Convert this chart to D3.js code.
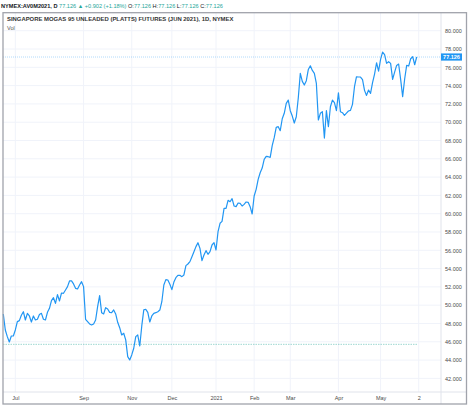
<!DOCTYPE html>
<html><head><meta charset="utf-8">
<script src="https://cdn.jsdelivr.net/npm/d3@7"></script>
<style>html,body{margin:0;padding:0;background:#fff;}svg{display:block;font-family:"Liberation Sans",Arial,sans-serif;}</style>
</head><body>
<svg id="chart" width="469" height="408"></svg>
<script>
// ---- data ----
const values = [
49.04,47.29,46.56,45.98,46.63,46.63,47.29,48.20,48.31,48.89,
49.29,48.38,49.11,48.82,48.16,48.82,48.38,48.46,48.97,49.11,
48.46,48.38,49.22,49.66,50.50,50.82,50.20,51.15,50.46,51.33,
51.30,51.66,52.03,52.65,52.65,52.32,51.84,51.77,52.21,52.57,
52.03,48.46,48.20,47.95,47.84,47.95,48.38,49.84,51.04,49.18,
49.04,49.73,49.58,49.22,49.18,49.48,49.04,48.13,47.54,46.74,
46.93,46.20,44.38,44.01,44.56,45.29,46.56,46.74,45.54,47.73,
49.48,49.55,49.22,48.16,48.82,49.11,49.18,49.29,49.47,50.38,
52.21,52.79,52.75,52.28,51.70,52.53,53.01,53.26,53.26,53.12,
53.30,54.32,54.50,54.76,55.30,55.85,56.40,56.83,56.21,54.87,
55.48,55.96,55.56,55.85,56.58,56.83,56.03,58.03,58.95,59.16,
60.58,60.58,61.46,61.31,61.64,60.84,60.77,61.17,61.13,60.84,
61.02,61.28,61.24,60.77,59.97,61.93,62.66,63.75,64.48,64.99,
65.94,66.27,66.23,66.16,67.43,68.31,69.44,69.51,69.07,70.38,
70.97,72.06,72.42,71.26,70.67,69.91,70.60,72.68,75.34,74.46,
74.06,74.54,75.77,76.17,75.66,75.34,74.24,70.24,70.97,71.15,
68.27,71.26,69.51,71.69,72.42,72.13,71.26,73.22,71.15,71.04,
70.75,71.00,71.22,71.29,71.95,73.88,74.97,74.94,74.94,74.65,
73.48,72.93,73.52,73.15,74.32,75.26,76.50,75.59,76.87,77.67,
77.38,76.43,76.61,76.43,74.68,75.48,76.21,76.36,74.68,72.79,
74.72,76.21,76.14,76.94,77.16,76.28,77.126
];
const xTickLabels = ["Jul","Sep","Nov","Dec","2021","Feb","Mar","Apr","May","2"];
const xTickIndex  = [6, 40, 64, 84, 106, 125, 143, 167, 188, 207];
const yTicks = [42,44,46,48,50,52,54,56,58,60,62,64,66,68,70,72,74,76,78,80];
const lastPrice = 77.126;
const baseLine = 45.72;
const symbol = "NYMEX:AV0M2021, D";
const change = "+0.902 (+1.18%)";
const title = "SINGAPORE MOGAS 95 UNLEADED (PLATTS) FUTURES (JUN 2021), 1D, NYMEX";

// ---- layout ----
const svg = d3.select("#chart");
const L = 3, R = 441, T = 12.7, B = 392, FR = 466.5, FB = 404;
const x = d3.scaleLinear().domain([0, values.length - 1]).range([3.3, 416.7]);
const y = d3.scaleLinear().domain([40.51, 81.97]).range([B, T]);
const teal = "#26a69a", blue = "#2196f3", txt = "#4a4a4a";

// header
const hdr = svg.append("text").attr("x", 1).attr("y", 8).attr("font-size", 5.6).attr("fill", "#131722");
hdr.append("tspan").attr("font-weight", "bold").text(symbol + " ");
hdr.append("tspan").attr("fill", teal).text("77.126 \u25B2 " + change + " ");
["O","H","L","C"].forEach(k => {
  hdr.append("tspan").text(k + ":");
  hdr.append("tspan").attr("fill", teal).text("77.126 ");
});

// grid
const g = svg.append("g");
g.selectAll(".hg").data(yTicks).join("line")
  .attr("x1", L).attr("x2", R).attr("y1", d => y(d)).attr("y2", d => y(d))
  .attr("stroke", "#f0f3fa").attr("stroke-width", 1);
g.selectAll(".vg").data(xTickIndex).join("line")
  .attr("x1", d => x(d)).attr("x2", d => x(d)).attr("y1", T).attr("y2", B)
  .attr("stroke", "#f0f3fa").attr("stroke-width", 1);

// axis separators
svg.append("line").attr("x1", R).attr("x2", R).attr("y1", T).attr("y2", FB).attr("stroke", "#e0e3eb");
svg.append("line").attr("x1", L).attr("x2", FR).attr("y1", B).attr("y2", B).attr("stroke", "#e0e3eb");

// title and Vol
svg.append("text").attr("x", 7).attr("y", 21).attr("font-size", 5.9).attr("font-weight", "bold")
  .attr("fill", "#333").text(title);
svg.append("text").attr("x", 7).attr("y", 30).attr("font-size", 5.6).attr("fill", "#555").text("Vol");

// base dotted line
svg.append("line").attr("x1", L).attr("x2", 418).attr("y1", y(baseLine)).attr("y2", y(baseLine))
  .attr("stroke", teal).attr("stroke-opacity", 0.45).attr("stroke-width", 1).attr("stroke-dasharray", "1.5,1");
// last price dotted line
svg.append("line").attr("x1", L).attr("x2", R).attr("y1", y(lastPrice)).attr("y2", y(lastPrice))
  .attr("stroke", blue).attr("stroke-opacity", 0.35).attr("stroke-width", 1).attr("stroke-dasharray", "1,1");

// series line
svg.append("path").datum(values)
  .attr("d", d3.line().x((d, i) => x(i)).y(d => y(d)))
  .attr("fill", "none").attr("stroke", blue).attr("stroke-width", 1.2).attr("stroke-linejoin", "round");

// y axis
const ya = svg.append("g").attr("transform", `translate(${R},0)`)
  .call(d3.axisRight(y).tickValues(yTicks).tickFormat(d3.format(".3f")).tickSize(0).tickPadding(4));
ya.select(".domain").remove();
ya.selectAll("text").attr("font-size", 5.5).attr("fill", txt).attr("font-family", "Liberation Sans, Arial, sans-serif");

// x axis
const xa = svg.append("g").attr("transform", `translate(0,${B})`)
  .call(d3.axisBottom(x).tickValues(xTickIndex).tickFormat((d, i) => xTickLabels[i]).tickSize(0).tickPadding(4));
xa.select(".domain").remove();
xa.selectAll("text").attr("font-size", 5.5).attr("fill", txt).attr("font-family", "Liberation Sans, Arial, sans-serif");

// price label
svg.append("rect").attr("x", R).attr("y", y(lastPrice) - 3.6).attr("width", 21).attr("height", 7.2).attr("fill", blue);
svg.append("text").attr("x", R + 10.5).attr("y", y(lastPrice)).attr("dy", "0.35em").attr("text-anchor", "middle")
  .attr("font-size", 5.5).attr("font-weight", "bold").attr("fill", "#fff").text(d3.format(".3f")(lastPrice));

// frame
svg.append("rect").attr("x", L).attr("y", T).attr("width", FR - L).attr("height", FB - T)
  .attr("fill", "none").attr("stroke", "#a0a3ab").attr("stroke-width", 1.3);
</script>
</body></html>
